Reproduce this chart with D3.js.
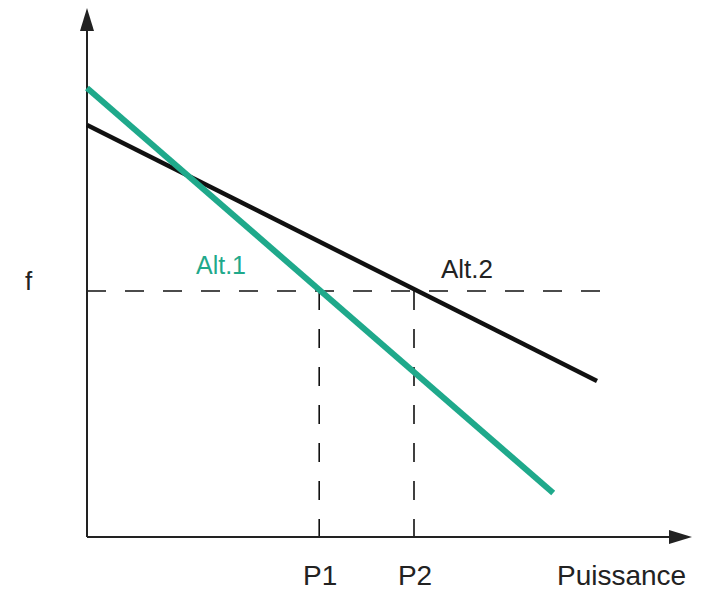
<!DOCTYPE html>
<html>
<head>
<meta charset="utf-8">
<script src="https://cdn.jsdelivr.net/npm/d3@7"></script>
<style>
  body { margin: 0; background: #fff; overflow: hidden; }
  svg { display: block; }
  text { font-family: "Liberation Sans", Arial, sans-serif; }
</style>
</head>
<body>
<script>
// values in chart units (x: puissance, y: f)
let alt1 = [[0, 8.98], [7.77, 0.88]]
let alt2 = [[0, 8.24], [8.5, 3.12]]
let fLevel = 4.92
let pValues = [3.87, 5.45]
let pLabels = ["P1", "P2"]

let svg = d3.select('body')
    .append('svg')
    .attr('width', 702)
    .attr('height', 592)

let x = d3.scaleLinear().domain([0, 10]).range([87, 687])
let y = d3.scaleLinear().domain([0, 10]).range([537, 37])

let line = d3.line()
    .x(function (d) { return x(d[0]); })
    .y(function (d) { return y(d[1]); })

// dashed guides
svg.append("line")
    .attr("x1", x(0)).attr("x2", 603)
    .attr("y1", y(fLevel)).attr("y2", y(fLevel))
    .attr("stroke", "#111").attr("stroke-width", 1.6)
    .attr("stroke-dasharray", "19,19")

svg.selectAll(".pline")
    .data(pValues)
    .enter()
    .append("line")
    .attr("class", "pline")
    .attr("x1", function (d) { return x(d); })
    .attr("x2", function (d) { return x(d); })
    .attr("y1", y(fLevel))
    .attr("y2", y(0))
    .attr("stroke", "#111").attr("stroke-width", 1.6)
    .attr("stroke-dasharray", "19,19")

// axes with arrows
svg.append("line")
    .attr("x1", x(0)).attr("x2", x(0))
    .attr("y1", y(0)).attr("y2", 28)
    .attr("stroke", "#222").attr("stroke-width", 2)
svg.append("path")
    .attr("d", "M" + x(0) + ",8 L" + (x(0) - 7) + ",31 L" + (x(0) + 7) + ",31 Z")
    .attr("fill", "#222")

svg.append("line")
    .attr("x1", x(0)).attr("x2", 672)
    .attr("y1", y(0)).attr("y2", y(0))
    .attr("stroke", "#222").attr("stroke-width", 2)
svg.append("path")
    .attr("d", "M692," + y(0) + " L669," + (y(0) - 7) + " L669," + (y(0) + 7) + " Z")
    .attr("fill", "#222")

// the two lines
svg.append("path")
    .attr("d", line(alt2))
    .attr("fill", "none")
    .attr("stroke", "#111")
    .attr("stroke-width", 4.5)

svg.append("path")
    .attr("d", line(alt1))
    .attr("fill", "none")
    .attr("stroke", "#1fa98b")
    .attr("stroke-width", 6)

// labels
svg.append("text")
    .attr("x", 25).attr("y", y(fLevel) - 1)
    .style("font-size", "26px").attr("fill", "#222")
    .text("f")

svg.append("text")
    .attr("x", 196).attr("y", 274)
    .style("font-size", "25px").attr("fill", "#1fa98b")
    .text("Alt.1")

svg.append("text")
    .attr("x", 441).attr("y", 278)
    .style("font-size", "26px").attr("fill", "#222")
    .text("Alt.2")

svg.selectAll(".plabel")
    .data(pValues)
    .enter()
    .append("text")
    .attr("class", "plabel")
    .attr("x", function (d) { return x(d) + 1; })
    .attr("y", 585)
    .attr("text-anchor", "middle")
    .style("font-size", "28px").attr("fill", "#222")
    .text(function (d, i) { return pLabels[i]; })

svg.append("text")
    .attr("x", 557).attr("y", 585)
    .style("font-size", "28px").attr("fill", "#222")
    .text("Puissance")
</script>
</body>
</html>
